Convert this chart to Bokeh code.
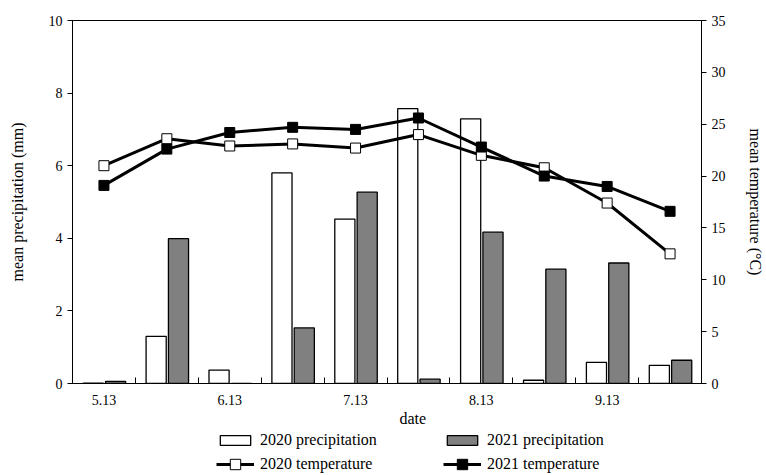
from bokeh.plotting import figure
from bokeh.layouts import column
from bokeh.models import LinearAxis, Range1d, FixedTicker, Legend, LegendItem, Title, ColumnDataSource
from bokeh.embed import file_html
from bokeh.resources import INLINE

dates = ["5.13", "5.28", "6.13", "6.28", "7.13", "7.28", "8.13", "8.28", "9.13", "9.28"]
shown_labels = ["5.13", "6.13", "7.13", "8.13", "9.13"]
precip_2020 = [0.01, 1.30, 0.37, 5.80, 4.53, 7.57, 7.29, 0.09, 0.58, 0.50]
precip_2021 = [0.06, 3.99, 0.00, 1.53, 5.27, 0.12, 4.17, 3.15, 3.32, 0.64]
temp_2020 = [21.0, 23.6, 22.9, 23.1, 22.7, 24.0, 22.0, 20.8, 17.4, 12.5]
temp_2021 = [19.1, 22.6, 24.2, 24.7, 24.5, 25.6, 22.8, 20.0, 19.0, 16.6]

FONT = "Liberation Serif"
n = len(dates)
centers = [i + 0.5 for i in range(n)]

src = ColumnDataSource(dict(
    x=centers,
    x20=[c - 0.17 for c in centers],
    x21=[c + 0.185 for c in centers],
    p20=precip_2020, p21=precip_2021, t20=temp_2020, t21=temp_2021,
))

MAIN_H = 430
p = figure(width=766, height=MAIN_H, output_backend="svg", toolbar_location=None,
           x_range=Range1d(0, n), y_range=Range1d(0, 10),
           min_border_left=72, min_border_right=60, min_border_top=20, min_border_bottom=47)
p.extra_y_ranges = {"temp": Range1d(0, 35)}
p.xgrid.visible = False
p.ygrid.visible = False
p.outline_line_color = "black"
p.outline_line_width = 1
p.background_fill_color = "white"

BAR20 = dict(fill_color="white", line_color="black", line_width=1.3)
BAR21 = dict(fill_color="#808080", line_color="black", line_width=1.3)
LINE = dict(line_color="black", line_width=3)
MK20 = dict(marker="square", size=10, fill_color="white", line_color="black", line_width=1)
MK21 = dict(marker="square", size=10, fill_color="black", line_color="black", line_width=1)

p.vbar(x="x20", top="p20", width=0.32, source=src, **BAR20)
p.vbar(x="x21", top="p21", width=0.32, source=src, **BAR21)
p.line(x="x", y="t20", source=src, y_range_name="temp", **LINE)
p.scatter(x="x", y="t20", source=src, y_range_name="temp", **MK20)
p.line(x="x", y="t21", source=src, y_range_name="temp", **LINE)
p.scatter(x="x", y="t21", source=src, y_range_name="temp", **MK21)

# bottom axis: labels at even categories, ticks at category boundaries
xa = p.xaxis[0]
label_pos = [centers[dates.index(d)] for d in shown_labels]
xa.ticker = FixedTicker(ticks=label_pos, minor_ticks=[i for i in range(1, n)])
xa.major_label_overrides = {pos: lab for pos, lab in zip(label_pos, shown_labels)}
xa.major_tick_in = 0
xa.major_tick_out = 0
xa.minor_tick_in = 6
xa.minor_tick_out = 0
xa.minor_tick_line_color = "black"
xa.axis_line_color = "black"
xa.major_label_standoff = 11
xa.major_label_text_font = FONT
xa.major_label_text_font_size = "14px"
xa.major_label_text_color = "black"

ya = p.yaxis[0]
ya.ticker = FixedTicker(ticks=[0, 2, 4, 6, 8, 10])
ya.axis_label = "mean precipitation (mm)"
ya.major_tick_in = 0
ya.major_tick_out = 5
ya.minor_tick_line_color = None
ya.major_label_standoff = 5
ya.axis_label_standoff = 20

yr = LinearAxis(y_range_name="temp", ticker=FixedTicker(ticks=[0, 5, 10, 15, 20, 25, 30, 35]))
yr.axis_label = "mean temperature (°C)"
yr.major_tick_in = 0
yr.major_tick_out = 5
yr.minor_tick_line_color = None
yr.major_label_standoff = 5
yr.axis_label_standoff = 18
p.add_layout(yr, "right")

for ax in (ya, yr):
    ax.major_label_text_font = FONT
    ax.major_label_text_font_size = "14px"
    ax.major_label_text_color = "black"
    ax.axis_label_text_font = FONT
    ax.axis_label_text_font_size = "16px"
    ax.axis_label_text_font_style = "normal"
    ax.axis_label_text_color = "black"
    ax.axis_line_color = "black"
    ax.major_tick_line_color = "black"

date_title = Title(text="date", align="left", offset=327, standoff=0,
                   text_font=FONT, text_font_size="16px", text_font_style="normal", text_color="black")
p.add_layout(date_title, "below")

# legend strip below the chart (legend keys use the same glyph styles as the chart series;
# their key renderers hold no drawable points)
LEG_H = 475 - MAIN_H
q = figure(width=766, height=LEG_H, output_backend="svg", toolbar_location=None,
           x_range=Range1d(0, 1), y_range=Range1d(0, 1), x_axis_type=None, y_axis_type=None,
           min_border=0, min_border_left=0, min_border_right=0, min_border_top=0, min_border_bottom=0)
q.xgrid.visible = False
q.ygrid.visible = False
q.outline_line_color = None
nan = float("nan")
key_src = ColumnDataSource(dict(x=[nan], y=[nan]))
g20 = q.vbar(x="x", top="y", width=0.3, source=key_src, **BAR20)
g21 = q.vbar(x="x", top="y", width=0.3, source=key_src, **BAR21)
gl20 = q.line(x="x", y="y", source=key_src, **LINE)
gm20 = q.scatter(x="x", y="y", source=key_src, **MK20)
gl21 = q.line(x="x", y="y", source=key_src, **LINE)
gm21 = q.scatter(x="x", y="y", source=key_src, **MK21)


def make_legend(items, glyph_h, loc):
    lg = Legend(items=items, location=loc, orientation="horizontal")
    lg.glyph_width = 38
    lg.glyph_height = glyph_h
    lg.label_width = 183
    lg.label_height = 20
    lg.spacing = 0
    lg.padding = 0
    lg.margin = 0
    lg.label_standoff = 6
    lg.border_line_alpha = 0
    lg.background_fill_alpha = 0
    lg.label_text_font = FONT
    lg.label_text_font_size = "16px"
    lg.label_text_color = "black"
    return lg


legend_precip = make_legend([
    LegendItem(label="2020 precipitation", renderers=[g20]),
    LegendItem(label="2021 precipitation", renderers=[g21]),
], 12, (144, 25))
legend_temp = make_legend([
    LegendItem(label="2020 temperature", renderers=[gl20, gm20]),
    LegendItem(label="2021 temperature", renderers=[gl21, gm21]),
], 26, (144, -2))
q.add_layout(legend_precip, "center")
q.add_layout(legend_temp, "center")

open("out.html", "w").write(file_html(column(p, q, spacing=0), INLINE))
